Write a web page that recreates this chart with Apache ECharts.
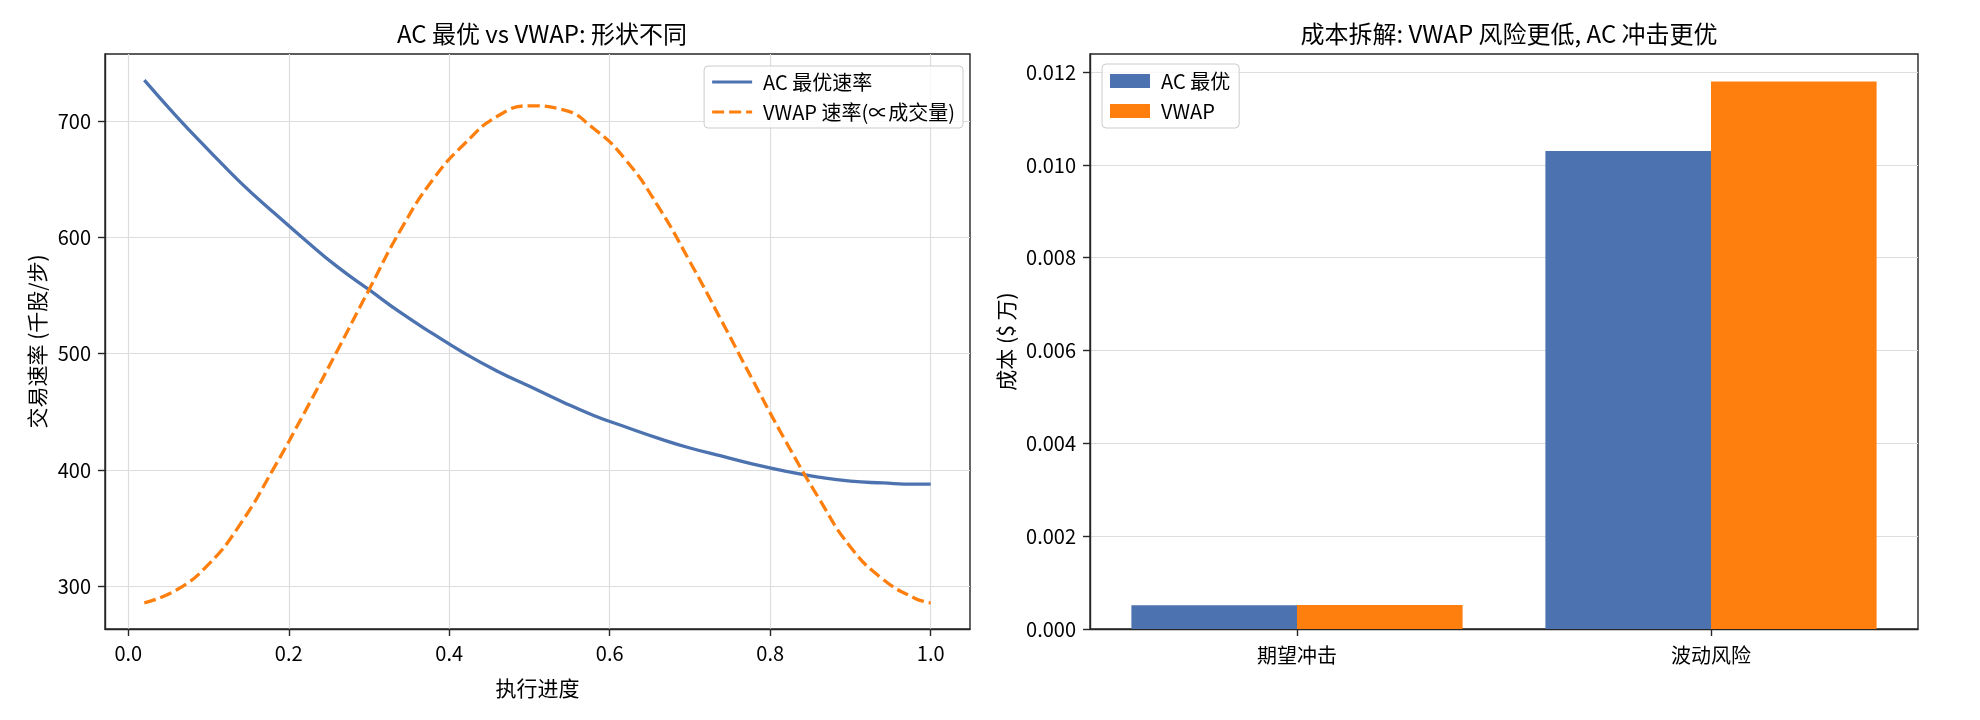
<!DOCTYPE html>
<html>
<head>
<meta charset="utf-8">
<script src="https://cdn.jsdelivr.net/npm/echarts@6/dist/echarts.min.js"></script>
<style>
  html, body { margin: 0; padding: 0; background: #fff; }
  #chart { width: 1980px; height: 720px; }
</style>
</head>
<body>
<div id="chart"></div>
<script>
// 执行进度 (x) and the two rate curves
const progress = [0.02, 0.06, 0.10, 0.14, 0.18, 0.22, 0.26, 0.30, 0.34, 0.38, 0.42, 0.46, 0.50,
  0.54, 0.58, 0.62, 0.66, 0.70, 0.74, 0.78, 0.82, 0.86, 0.90, 0.94, 0.98, 1.00];
const acRate = [735, 704, 675, 647, 622, 598, 575, 555, 535, 517, 500, 485, 472,
  459, 447, 437, 427.5, 419, 412, 405, 399, 394, 390.5, 389, 388, 388];
const vwapRate = [286, 297, 319, 354, 400, 450, 502, 555, 607, 650, 681, 704, 713,
  710, 693.5, 666.5, 627, 579, 527.5, 475, 424, 376.5, 334, 306.5, 290, 286];

// 成本拆解
const costCategories = ['期望冲击', '波动风险'];
const acCost = [0.00051, 0.0103];
const vwapCost = [0.000515, 0.0118];

// tick labels
const progressTicks = [0, 0.2, 0.4, 0.6, 0.8, 1.0];
const rateTicks = [300, 400, 500, 600, 700];
const costTicks = [0, 0.002, 0.004, 0.006, 0.008, 0.010, 0.012];

const FONT = "'Noto Sans CJK SC', 'Liberation Sans', sans-serif";
const AXIS_COLOR = '#262626';
const GRID_COLOR = '#dddddd';
const BLUE = '#4c72b0';
const ORANGE = '#ff7f0e';
const FS = 20;      // tick labels
const NAME_FS = 21; // axis names
const TITLE_FS = 24;
const LEGEND_FS = 20;

function axisCommon(ticks, fmt, margin) {
  return {
    axisLine: { show: true, onZero: false, lineStyle: { color: AXIS_COLOR, width: 1.4 } },
    axisTick: { show: true, inside: false, length: 7, customValues: ticks, lineStyle: { color: AXIS_COLOR, width: 1.4 } },
    axisLabel: { customValues: ticks, color: '#000', fontSize: FS, fontFamily: FONT, margin: margin, formatter: fmt },
    nameTextStyle: { color: '#000', fontSize: NAME_FS, fontFamily: FONT },
    nameLocation: 'middle'
  };
}

const chart = echarts.init(document.getElementById('chart'), null, { renderer: 'canvas' });

const legendBase = {
  orient: 'vertical',
  itemStyle: { borderWidth: 0 },
  backgroundColor: 'rgba(255,255,255,0.8)',
  borderColor: '#cccccc', borderWidth: 1, borderRadius: 4,
  textStyle: { fontSize: LEGEND_FS, color: '#000', fontFamily: FONT, padding: [0, 0, 0, 6] }
};

const option = {
  animation: false,
  backgroundColor: '#fff',
  textStyle: { fontFamily: FONT },
  title: [
    {
      text: 'AC 最优 vs VWAP: 形状不同',
      left: 537, top: 17, textAlign: 'center',
      textStyle: { fontSize: TITLE_FS, fontWeight: 'normal', color: '#000', fontFamily: FONT }
    },
    {
      text: '成本拆解: VWAP 风险更低, AC 冲击更优',
      left: 1504, top: 17, textAlign: 'center',
      textStyle: { fontSize: TITLE_FS, fontWeight: 'normal', color: '#000', fontFamily: FONT }
    }
  ],
  grid: [
    { left: 105, top: 54, width: 865, height: 575, show: true, borderColor: AXIS_COLOR, borderWidth: 1.4, backgroundColor: 'transparent' },
    { left: 1090, top: 54, width: 828, height: 575, show: true, borderColor: AXIS_COLOR, borderWidth: 1.4, backgroundColor: 'transparent' }
  ],
  legend: [
    Object.assign({}, legendBase, {
      data: [
        { name: 'AC 最优速率', icon: 'path://M0,0h40v3h-40z' },
        { name: 'VWAP 速率(∝成交量)', icon: 'path://M0,0h12v3h-12z M17,0h12v3h-12z M34,0h6v3h-6z' }
      ],
      right: 1017, top: 66,
      itemWidth: 40, itemHeight: 12, itemGap: 10,
      padding: [6, 8, 6, 8]
    }),
    Object.assign({}, legendBase, {
      data: ['AC 最优', 'VWAP'],
      left: 1102, top: 64,
      icon: 'rect',
      itemWidth: 40, itemHeight: 14, itemGap: 10,
      padding: [7, 9, 7, 8]
    })
  ],
  xAxis: [
    Object.assign(axisCommon(progressTicks, v => v.toFixed(1), 14), {
      type: 'value', gridIndex: 0, min: -0.029, max: 1.049,
      name: '执行进度', nameGap: 49,
      splitLine: { show: true, lineStyle: { color: GRID_COLOR, width: 1.2 } }
    }),
    {
      type: 'category', gridIndex: 1, data: costCategories,
      axisLine: { show: true, lineStyle: { color: AXIS_COLOR, width: 1.4 } },
      axisTick: { show: true, alignWithLabel: true, length: 7, lineStyle: { color: AXIS_COLOR, width: 1.4 } },
      axisLabel: { color: '#000', fontSize: FS, fontFamily: FONT, margin: 16 },
      splitLine: { show: false }
    }
  ],
  yAxis: [
    Object.assign(axisCommon(rateTicks, v => String(v), 14), {
      type: 'value', gridIndex: 0, min: 263.5, max: 757.5,
      name: '交易速率 (千股/步)', nameGap: 57,
      splitLine: { show: true, lineStyle: { color: GRID_COLOR, width: 1.2 } }
    }),
    Object.assign(axisCommon(costTicks, v => v.toFixed(3), 14), {
      type: 'value', gridIndex: 1, min: 0, max: 0.01239,
      name: '成本 ($ 万)', nameGap: 73,
      splitLine: { show: true, lineStyle: { color: GRID_COLOR, width: 1.2 } }
    })
  ],
  series: [
    {
      name: 'AC 最优速率', type: 'line', xAxisIndex: 0, yAxisIndex: 0,
      data: progress.map((x, i) => [x, acRate[i]]),
      smooth: 0.5, symbol: 'none',
      lineStyle: { color: BLUE, width: 3.3 },
      itemStyle: { color: BLUE }
    },
    {
      name: 'VWAP 速率(∝成交量)', type: 'line', xAxisIndex: 0, yAxisIndex: 0,
      data: progress.map((x, i) => [x, vwapRate[i]]),
      smooth: 0.5, symbol: 'none',
      lineStyle: { color: ORANGE, width: 3.3, type: [12, 5] },
      itemStyle: { color: ORANGE }
    },
    {
      name: 'AC 最优', type: 'bar', xAxisIndex: 1, yAxisIndex: 1,
      data: acCost, barWidth: '40%', barGap: '0%',
      itemStyle: { color: BLUE }
    },
    {
      name: 'VWAP', type: 'bar', xAxisIndex: 1, yAxisIndex: 1,
      data: vwapCost, barWidth: '40%', barGap: '0%',
      itemStyle: { color: ORANGE }
    }
  ]
};

chart.setOption(option);
</script>
</body>
</html>
